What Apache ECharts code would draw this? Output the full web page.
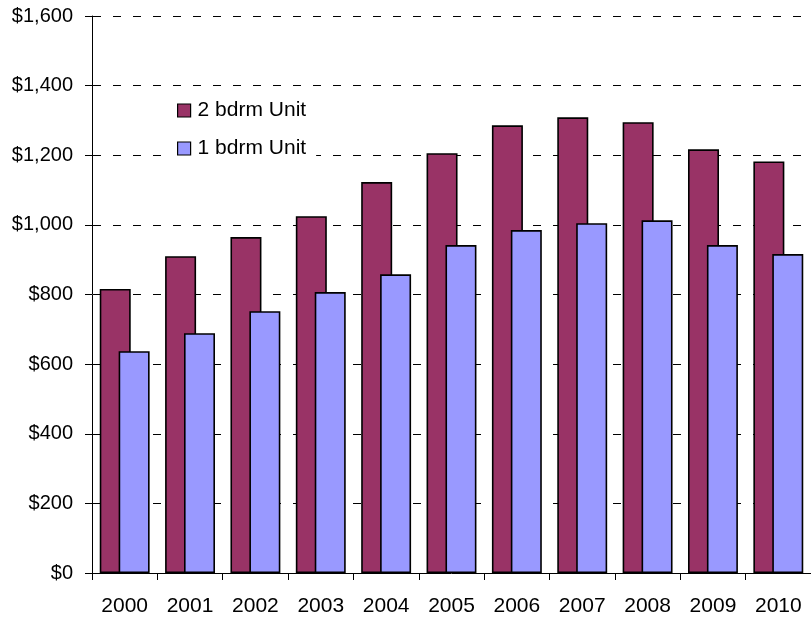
<!DOCTYPE html>
<html><head><meta charset="utf-8">
<script src="https://cdn.jsdelivr.net/npm/echarts@6/dist/echarts.min.js"></script>
<style>html,body{margin:0;padding:0;background:#fff}#c{width:811px;height:617px}</style>
</head><body><div id="c"></div>
<script>
const years = ['2000','2001','2002','2003','2004','2005','2006','2007','2008','2009','2010'];
const twoBdrm = [816, 910, 965, 1025, 1123, 1206, 1286, 1309, 1295, 1217, 1182];
const oneBdrm = [637, 689, 752, 807, 858, 942, 985, 1005, 1013, 942, 916];
const yMin = 0, yMax = 1600, yStep = 200;

const chart = echarts.init(document.getElementById('c'));
const font = 'Liberation Sans, Arial, sans-serif';
chart.setOption({
  animation: false,
  grid: {left: 92, top: 16, width: 726, height: 557, containLabel: false},
  legend: {
    orient: 'vertical', left: 168, top: 95,
    padding: [5, 10, 5, 9],
    backgroundColor: '#fff',
    itemWidth: 13, itemHeight: 13, itemGap: 17,
    icon: 'rect',
    textStyle: {fontFamily: font, fontSize: 21, color: '#000', lineHeight: 20, padding: [0,0,0,2]},
    data: [
      {name: '2 bdrm Unit', itemStyle: {borderColor: '#000', borderWidth: 1.2}},
      {name: '1 bdrm Unit', itemStyle: {borderColor: '#000', borderWidth: 1.2}}
    ]
  },
  xAxis: {
    type: 'category', data: years,
    axisLine: {lineStyle: {color: '#000', width: 1}},
    axisTick: {show: true, length: 7, lineStyle: {color: '#000'}},
    axisLabel: {fontFamily: font, fontSize: 21, color: '#000', margin: 23}
  },
  yAxis: {
    type: 'value', min: yMin, max: yMax, interval: yStep,
    axisLine: {show: true, lineStyle: {color: '#000', width: 1}},
    axisTick: {show: true, length: 7, lineStyle: {color: '#000'}},
    axisLabel: {fontFamily: font, fontSize: 20, color: '#000', margin: 19,
      formatter: v => '$' + v.toLocaleString('en-US')},
    splitLine: {show: true, lineStyle: {color: '#000', width: 1, type: [8, 12], dashOffset: 19}}
  },
  series: [
    {name: '2 bdrm Unit', type: 'bar', data: twoBdrm, barWidth: 31, barGap: '-39%',
      itemStyle: {color: '#993366', borderColor: '#000', borderWidth: 1.6}},
    {name: '1 bdrm Unit', type: 'bar', data: oneBdrm, barWidth: 31, barGap: '-39%',
      itemStyle: {color: '#9999FF', borderColor: '#000', borderWidth: 1.6}}
  ]
});
</script></body></html>
